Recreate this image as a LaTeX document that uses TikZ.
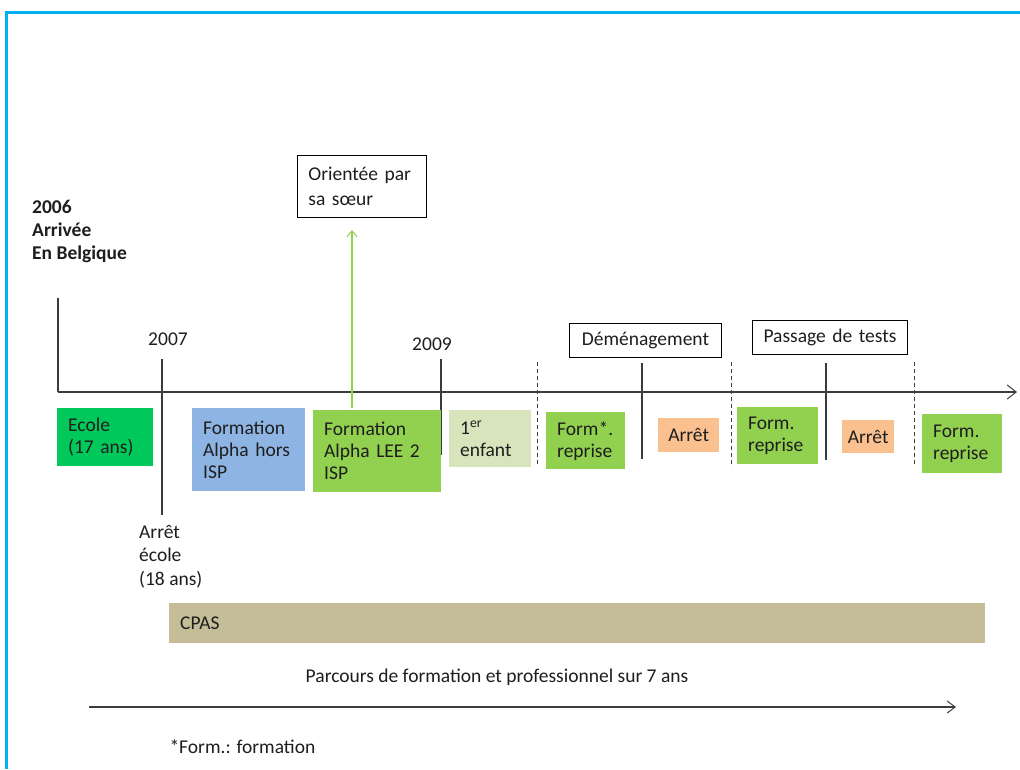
\documentclass[tikz,border=0pt]{standalone}
\usepackage{fontspec}
\setmainfont{Carlito}
\usetikzlibrary{arrows.meta}
\definecolor{frameblue}{RGB}{0,176,240}
\definecolor{ecolegreen}{RGB}{0,200,90}
\definecolor{alphablue}{RGB}{141,180,226}
\definecolor{formgreen}{RGB}{146,208,80}
\definecolor{childgreen}{RGB}{216,228,188}
\definecolor{stoporange}{RGB}{250,192,144}
\definecolor{cpastan}{RGB}{196,189,151}
\definecolor{txt}{RGB}{30,30,30}
\definecolor{axisgray}{RGB}{60,60,60}
\begin{document}
\begin{tikzpicture}[x=1pt,y=-1pt,
  every node/.style={font=\fontsize{19.5}{22}\selectfont, text=txt},
  box/.style={anchor=north west, inner ysep=0pt, inner xsep=11pt, align=left},
  cbox/.style={anchor=north west, inner sep=0pt, align=center},
  event/.style={anchor=north west, inner sep=0pt, align=center, draw=black, line width=0.9pt, fill=white},
  tick/.style={draw=axisgray, line width=1.1pt},
  dtick/.style={draw=axisgray, line width=1pt, dash pattern=on 4pt off 3pt},
  axis/.style={draw=axisgray, line width=1.3pt, -{Straight Barb[length=9pt,width=14pt,line width=1pt]}}
]
\useasboundingbox (0,0) rectangle (1020,769);
\fill[white] (0,0) rectangle (1020,769);

% frame
\draw[frameblue, line width=3pt] (6,769) -- (6,12) -- (1020,12);

% main time axis
\coordinate (ax0) at (58,392);
\coordinate (ax1) at (1017,392);
\draw[axis] (ax0) -- (ax1);
\draw[tick] (58,298) -- (ax0);

% start label
\node[anchor=north west, inner sep=0pt, align=left, font=\fontsize{19.5}{23}\selectfont\bfseries] (start) at (32,200)
  {2006\\Arrivée\\En Belgique};

% year ticks
\node (y2007) at (168,339) {2007};
\draw[tick] (162,359) -- (162,515);
\node (y2009) at (432,344) {2009};
\draw[tick] (441,359) -- (441,455);

% separators
\draw[dtick] (537,362) -- (537,467);
\draw[tick] (642,363) -- (642,459);
\draw[dtick] (731,362) -- (731,467);
\draw[tick] (826,363) -- (826,460);
\draw[dtick] (914,362) -- (914,467);

% phase boxes
\node[box, fill=ecolegreen, minimum width=96pt, minimum height=58pt, text width=74pt] (ecole) at (57,408) {Ecole\\(17 ans)};
\node[box, fill=alphablue, minimum width=113pt, minimum height=83pt, text width=91pt] (alphahors) at (192,408) {Formation\\Alpha hors\\ISP};
\node[box, fill=formgreen, minimum width=128pt, minimum height=82pt, text width=106pt] (alphalee) at (313,410) {Formation\\Alpha LEE 2\\ISP};
\node[box, fill=childgreen, minimum width=82pt, minimum height=57pt, text width=60pt, inner xsep=11pt] (enfant) at (449,410) {1\textsuperscript{er}\\enfant};
\node[box, fill=formgreen, minimum width=79pt, minimum height=57pt, text width=57pt] (reprise1) at (546,412) {Form*.\\reprise};
\node[cbox, fill=stoporange, minimum width=61pt, minimum height=34pt, text width=61pt] (arret1) at (658,418) {Arrêt};
\node[box, fill=formgreen, minimum width=81pt, minimum height=57pt, text width=59pt] (reprise2) at (737,407) {Form.\\reprise};
\node[cbox, fill=stoporange, minimum width=52pt, minimum height=33pt, text width=52pt] (arret2) at (842,420) {Arrêt};
\node[box, fill=formgreen, minimum width=80pt, minimum height=59pt, text width=58pt] (reprise3) at (922,414) {Form.\\reprise};

% events above the axis
\node[event, minimum width=152pt, minimum height=34pt, text width=152pt] (demenage) at (569,323) {Déménagement};
\node[event, minimum width=155pt, minimum height=34pt, text width=155pt] (tests) at (752,320) {Passage de tests};
\node[event, anchor=north west, align=left, inner sep=0pt, inner xsep=11pt, minimum width=129pt, minimum height=62pt, text width=107pt,
      font=\fontsize{19.5}{24.5}\selectfont] (orientee) at (297,155) {Orientée par\\sa sœur};

\coordinate (gA) at (352,408);
\coordinate (gB) at (352,230);
\draw[formgreen, line width=1.2pt, -{Straight Barb[length=6pt,width=10pt,line width=1pt]}] (gA) -- (gB);

% below the axis
\node[anchor=north west, inner sep=0pt, align=left, font=\fontsize{19.5}{23.5}\selectfont] (arretecole) at (139,525) {Arrêt\\école\\(18 ans)};
\node[box, fill=cpastan, minimum width=816pt, minimum height=40pt, text width=794pt, inner xsep=9pt] (cpas) at (169,603) {CPAS};

\node (parcours) at (497,677) {Parcours de formation et professionnel sur 7 ans};
\coordinate (pa0) at (89,707);
\coordinate (pa1) at (956,707);
\draw[draw=axisgray, line width=1.2pt, -{Straight Barb[length=8pt,width=12pt,line width=1pt]}] (pa0) -- (pa1);
\node[anchor=west] (note) at (166,747) {*Form.: formation};
\end{tikzpicture}
\end{document}
